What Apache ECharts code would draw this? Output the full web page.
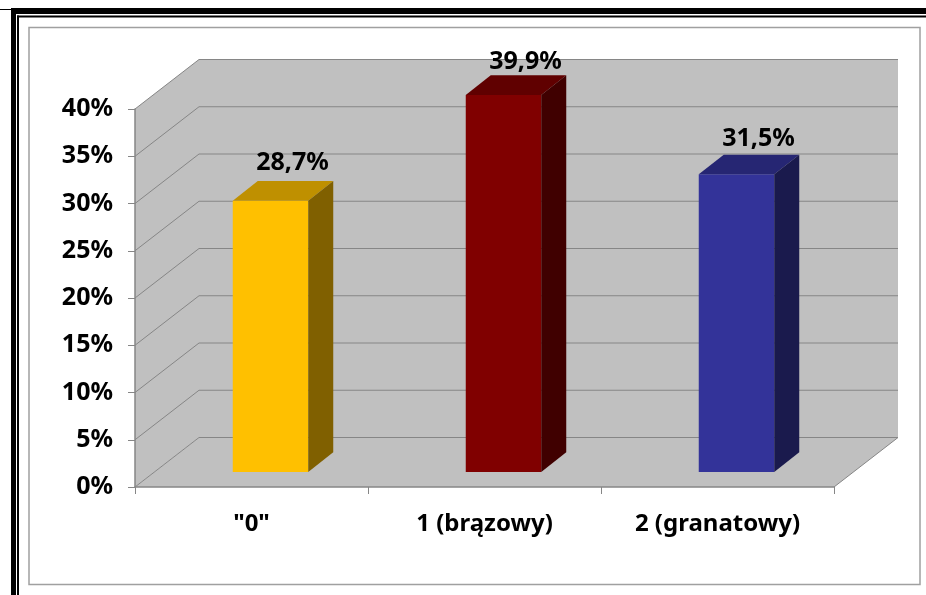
<!DOCTYPE html>
<html>
<head>
<meta charset="utf-8">
<style>html,body{margin:0;padding:0;background:#fff}#chart{width:926px;height:595px}</style>
<script src="https://cdn.jsdelivr.net/npm/echarts@6/dist/echarts.min.js"></script>
</head>
<body>
<div id="chart"></div>
<script>
// Share of each colour group, percent
const categories = ['"0"', '1 (brązowy)', '2 (granatowy)'];
const shares = [28.7, 39.9, 31.5];
const faceColors = ['#FFC000', '#800000', '#333399'];
const topColors = ['#BF9000', '#600000', '#262673'];
const sideColors = ['#806000', '#400000', '#1A1A4D'];
const wallTicks = [0, 5, 10, 15, 20, 25, 30, 35, 40];

// Oblique projection of the chart box, in pixels
const BOX_DX = 64, BOX_DY = 49.5;
const BAR_DX = 25, BAR_DY = 19.7;
const BAR_SHIFT_X = 19, BAR_SHIFT_Y = 15;
const BAR_BAND_SHARE = 0.324;
const LABEL_NUDGE = [-2.5, 2.5, 0];
const WALL = '#C0C0C0', RULE = '#868686';
const FONT = '"Noto Sans", sans-serif';

function poly(points, fill, z2) {
  return { type: 'polygon', z2: z2 || 0, shape: { points: points }, style: { fill: fill } };
}
function rule(points, width) {
  return { type: 'polyline', z2: 2, shape: { points: points },
    style: { fill: 'none', stroke: RULE, lineWidth: width || 1 } };
}

function renderBox(params, api) {
  const band = api.size([1, 0])[0];
  const left = api.coord([0, 0])[0] - band / 2;
  const right = api.coord([categories.length - 1, 0])[0] + band / 2;
  const y0 = api.coord([0, wallTicks[0]])[1];
  const yMax = api.coord([0, wallTicks[wallTicks.length - 1]])[1];
  const children = [
    poly([[left, y0], [left + BOX_DX, y0 - BOX_DY], [left + BOX_DX, yMax - BOX_DY], [left, yMax]], WALL),
    poly([[left + BOX_DX, y0 - BOX_DY], [right + BOX_DX, y0 - BOX_DY], [right + BOX_DX, yMax - BOX_DY], [left + BOX_DX, yMax - BOX_DY]], WALL),
    poly([[left, y0], [right, y0], [right + BOX_DX, y0 - BOX_DY], [left + BOX_DX, y0 - BOX_DY]], WALL),
    rule([[right, y0], [right + BOX_DX, y0 - BOX_DY]])
  ];
  wallTicks.forEach(function (t) {
    const y = api.coord([0, t])[1];
    children.push(rule([[left, y], [left + BOX_DX, y - BOX_DY], [right + BOX_DX, y - BOX_DY]]));
  });
  return { type: 'group', children: children };
}

function renderBar(params, api) {
  const i = api.value(0);
  const base = api.coord([i, 0]);
  const top = api.coord([i, api.value(1)]);
  const w = api.size([1, 0])[0] * BAR_BAND_SHARE;
  const x0 = base[0] + BAR_SHIFT_X - w / 2, x1 = x0 + w;
  const yb = base[1] - BAR_SHIFT_Y, yt = top[1] - BAR_SHIFT_Y;
  return {
    type: 'group',
    children: [
      poly([[x0, yb], [x1, yb], [x1, yt], [x0, yt]], faceColors[i], 4),
      poly([[x0, yt], [x1, yt], [x1 + BAR_DX, yt - BAR_DY], [x0 + BAR_DX, yt - BAR_DY]], topColors[i], 4),
      poly([[x1, yb], [x1 + BAR_DX, yb - BAR_DY], [x1 + BAR_DX, yt - BAR_DY], [x1, yt]], sideColors[i], 4),
      {
        type: 'text', z2: 6,
        style: {
          x: (x0 + x1) / 2 + 22,
          y: yt - BAR_DY - 15.5 + LABEL_NUDGE[i],
          text: api.value(1).toFixed(1).replace('.', ',') + '%',
          fill: '#000', align: 'center', verticalAlign: 'middle',
          font: 'bold 25px ' + FONT
        }
      }
    ]
  };
}

const axisLine = { show: true, lineStyle: { color: RULE, width: 1.5 } };
const axisTick = { show: true, length: 7, lineStyle: { color: RULE, width: 1 } };

const chart = echarts.init(document.getElementById('chart'), null, { renderer: 'canvas' });
chart.setOption({
  animation: false,
  backgroundColor: '#fff',
  grid: { left: 135, right: 92, top: 109, bottom: 108 },
  xAxis: {
    type: 'category', data: categories, z: 5,
    axisLine: axisLine, axisTick: axisTick,
    axisLabel: { margin: 25, color: '#000', fontFamily: FONT, fontWeight: 'bold', fontSize: 24, interval: 0 }
  },
  yAxis: {
    type: 'value', min: 0, max: 40, interval: 5, z: 5,
    splitLine: { show: false },
    axisLine: axisLine, axisTick: axisTick,
    axisLabel: { margin: 22, color: '#000', fontFamily: FONT, fontWeight: 'bold', fontSize: 25,
      padding: [6, 0, 0, 0], formatter: '{value}%' }
  },
  series: [
    { type: 'custom', z: 1, silent: true, renderItem: renderBox, data: [[0, 0]] },
    { type: 'custom', z: 3, silent: true, renderItem: renderBar,
      encode: { x: 0, y: 1 },
      data: shares.map(function (v, i) { return [i, v]; }) }
  ],
  graphic: [
    // Double page border and the inner chart-area frame
    { type: 'rect', shape: { x: 0, y: 9, width: 11, height: 1 }, style: { fill: '#000' } },
    { type: 'rect', shape: { x: 11, y: 8, width: 915, height: 6 }, style: { fill: '#000' } },
    { type: 'rect', shape: { x: 11, y: 8, width: 5, height: 587 }, style: { fill: '#000' } },
    { type: 'rect', shape: { x: 17, y: 15.5, width: 909, height: 2 }, style: { fill: '#000' } },
    { type: 'rect', shape: { x: 17, y: 15.5, width: 2, height: 580 }, style: { fill: '#000' } },
    { type: 'rect', shape: { x: 29, y: 27.5, width: 891, height: 557 },
      style: { fill: 'none', stroke: '#A0A0A0', lineWidth: 1.5 } }
  ]
});
</script>
</body>
</html>
